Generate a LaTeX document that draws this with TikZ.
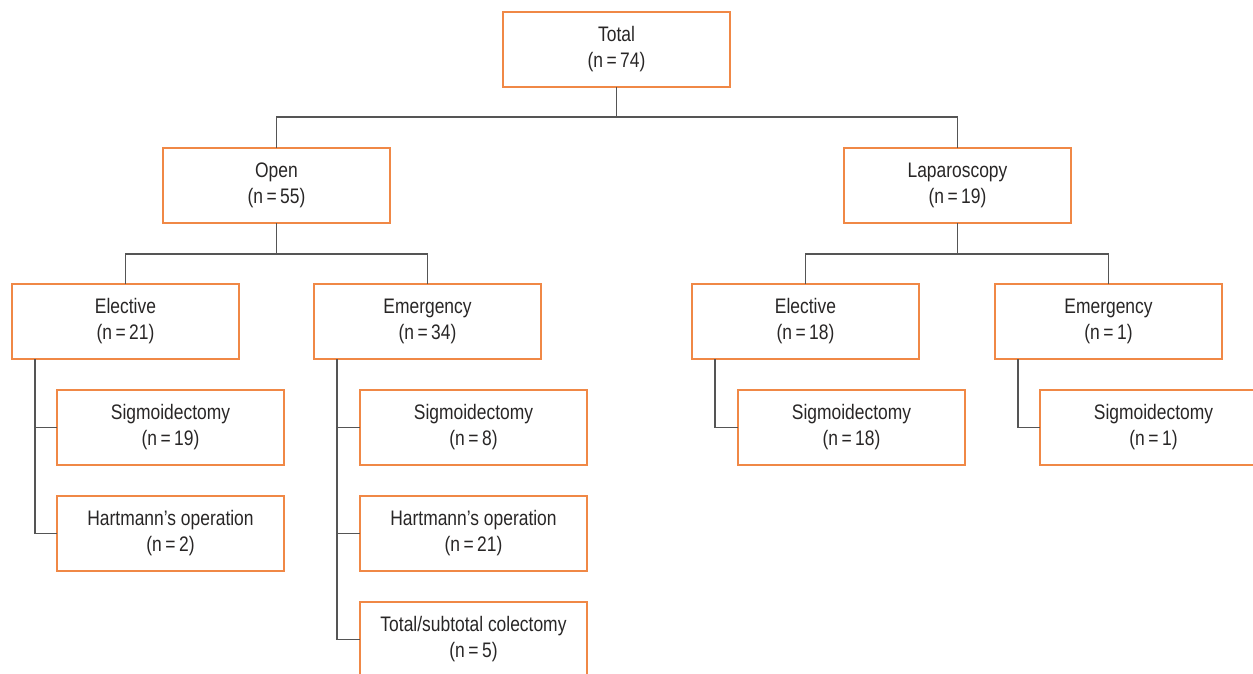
\documentclass[tikz,border=0pt]{standalone}
\usepackage{fontspec}
\setmainfont[FakeStretch=0.83]{Liberation Sans}
\usepackage{tikz}
\usetikzlibrary{positioning,calc}
\definecolor{boxorange}{RGB}{240,136,70}
\definecolor{linegray}{RGB}{85,85,85}
\definecolor{textgray}{RGB}{40,38,38}

\begin{document}
\begin{tikzpicture}[
  x=1pt, y=-1pt,
  box/.style={draw=boxorange, line width=1.2pt, minimum width=227pt,
    minimum height=75pt, inner sep=0pt, outer sep=0pt, align=center,
    text=textgray, font=\fontsize{21}{26}\selectfont},
  link/.style={draw=linegray, line width=1.6pt},
]
  \useasboundingbox (0,0) rectangle (1253,674);

  % Top: whole cohort
  \node[box] (total) at (616.5,49.5) {Total\\(n\,=\,74)};

  % Approach
  \node[box] (open) at (276.5,185.5) {Open\\(n\,=\,55)};
  \node[box] (lap) at (957.5,185.5) {Laparoscopy\\(n\,=\,19)};

  % Setting
  \node[box] (openel) at (125.5,321.5) {Elective\\(n\,=\,21)};
  \node[box] (openem) at (427.5,321.5) {Emergency\\(n\,=\,34)};
  \node[box] (lapel) at (805.5,321.5) {Elective\\(n\,=\,18)};
  \node[box] (lapem) at (1108.5,321.5) {Emergency\\(n\,=\,1)};

  % Procedures, open elective
  \node[box] (sigoe) at (170.5,427.5) {Sigmoidectomy\\(n\,=\,19)};
  \node[box] (hartoe) at (170.5,533.5) {Hartmann’s operation\\(n\,=\,2)};

  % Procedures, open emergency
  \node[box] (sigoem) at (473.5,427.5) {Sigmoidectomy\\(n\,=\,8)};
  \node[box] (hartoem) at (473.5,533.5) {Hartmann’s operation\\(n\,=\,21)};
  \node[box] (coloem) at (473.5,639.5) {Total/subtotal colectomy\\(n\,=\,5)};

  % Procedures, laparoscopy
  \node[box] (siglel) at (851.5,427.5) {Sigmoidectomy\\(n\,=\,18)};
  \node[box] (siglem) at (1153.5,427.5) {Sigmoidectomy\\(n\,=\,1)};

  % Tree links
  \draw[link] (total.south) -- ++(0,30) -| (open.north);
  \draw[link] (total.south) -- ++(0,30) -| (lap.north);
  \draw[link] (open.south) -- ++(0,31) -| (openel.north);
  \draw[link] (open.south) -- ++(0,31) -| (openem.north);
  \draw[link] (lap.south) -- ++(0,31) -| (lapel.north);
  \draw[link] (lap.south) -- ++(0,31) -| (lapem.north);

  % Side links to procedures
  \coordinate (oe) at ([xshift=23pt]openel.south west);
  \coordinate (oem) at ([xshift=23pt]openem.south west);
  \coordinate (lel) at ([xshift=23pt]lapel.south west);
  \coordinate (lem) at ([xshift=23pt]lapem.south west);
  \draw[link] (oe) |- (sigoe);
  \draw[link] (oe) |- (hartoe);
  \draw[link] (oem) |- (sigoem);
  \draw[link] (oem) |- (hartoem);
  \draw[link] (oem) |- (coloem);
  \draw[link] (lel) |- (siglel);
  \draw[link] (lem) |- (siglem);
\end{tikzpicture}
\end{document}
